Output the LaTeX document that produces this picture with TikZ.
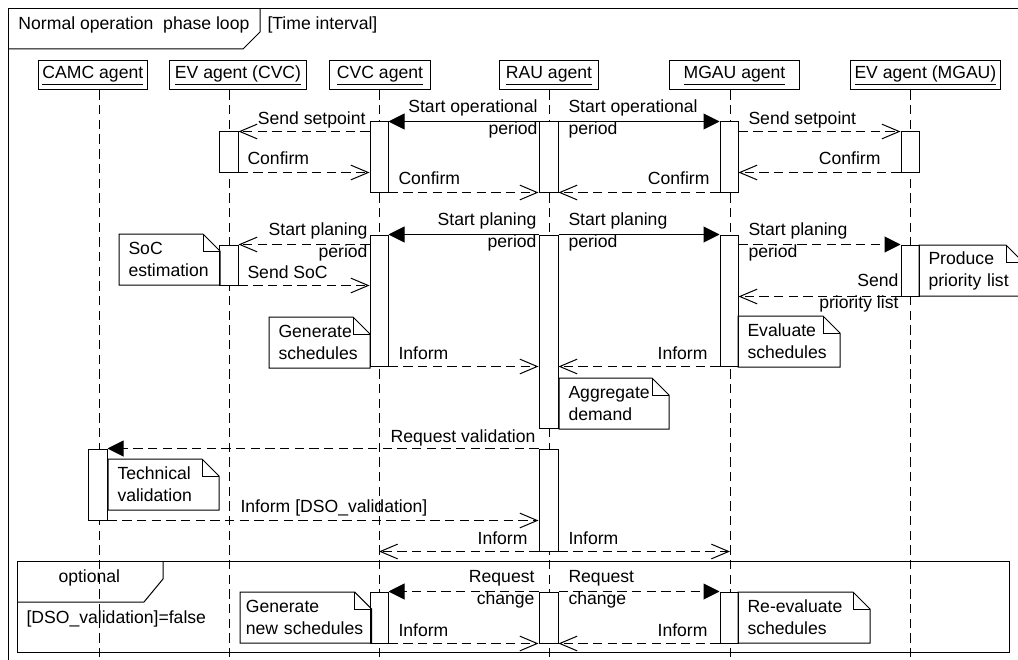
\documentclass[tikz,border=0pt]{standalone}
\usepackage{fontspec}
\setmainfont{Liberation Sans}
\usetikzlibrary{arrows.meta,fit,positioning}

% note with a folded corner, drawn round a named node
\newcommand{\foldnote}[1]{%
  \draw (#1.south west) -- (#1.north west) -- ([xshift=-12.75pt]#1.north east)
        -- ([yshift=-12.75pt]#1.north east) -- (#1.south east) -- cycle;
  \draw ([xshift=-12.75pt]#1.north east) |- ([yshift=-12.75pt]#1.north east);}

\begin{document}
\begin{tikzpicture}[x=0.75pt, y=-0.75pt, line width=0.75pt,
    font=\fontsize{13.2pt}{16.5pt}\selectfont]

    \tikzset{head/.style={draw, anchor=west, inner xsep=3pt, inner ysep=0pt, minimum height=21.75pt},
             life/.style={dash pattern=on 7pt off 4pt},
             act/.style={draw, fill=white, inner sep=0pt},
             note/.style={anchor=north west, align=left, inner xsep=6.75pt, inner ysep=0pt,
                          minimum height=37.5pt, text width=#1,
                          execute at begin node={\hyphenpenalty=10000}},
             call/.style={-{Triangle[length=12pt,width=12pt]}},
             calldash/.style={dash pattern=on 7pt off 4pt, -{Triangle[length=12pt,width=12pt]}},
             reply/.style={dash pattern=on 7pt off 4pt, -{Straight Barb[length=13pt,width=11pt]}},
             lblR/.style={anchor=east, align=right, inner sep=0pt},
             lblL/.style={anchor=west, align=left, inner sep=0pt},
             oneR/.style={anchor=base east, inner sep=0pt},
             oneL/.style={anchor=base west, inner sep=0pt}}

    \useasboundingbox (0,0) rectangle (1018,660);
    \clip (0,0) rectangle (1018,660);

    % frames
    \draw (8,9) rectangle (1030,670);
    \draw (8,49) -- (243,49) -- (260,32) -- (260,9);
    \node[oneL] (loopname) at (18,30) {Normal operation\ \ phase loop};
    \node[oneL] (loopguard) at (267,30) {[Time interval]};

    \draw (17,561) rectangle (1009,652);
    \draw (17,602) -- (144,602) -- (163,579) -- (163,561);
    \node[oneL] (optname) at (58,582) {optional};
    \node[oneL] (optguard) at (26,623) {[DSO\_validation]=false};

    % lifelines
    \node[head, minimum width=81pt] (camc) at (38,75.5) {\underline{CAMC agent}};
    \node[head, minimum width=102.75pt] (evc) at (169,75.5) {\underline{EV agent (CVC)}};
    \node[head, minimum width=75.75pt] (cvc) at (329,75.5) {\underline{CVC agent}};
    \node[head, minimum width=74.25pt] (rau) at (499,75.5) {\underline{RAU agent}};
    \node[head, minimum width=97.5pt] (mgau) at (669,75.5) {\underline{MGAU agent}};
    \node[head, minimum width=111.75pt] (evm) at (850,75.5) {\underline{EV agent (MGAU)}};

    \foreach \n/\x in {camc/99, evc/229, cvc/379, rau/549, mgau/730, evm/910} {
        \coordinate (\n-end) at (\x,660);
        \draw[life] (\n.south -| \n-end) -- (\n-end);
    }

    % activations
    \node[act, fit={(370,122) (388,192)}] (cvc1) {};
    \node[act, fit={(370,235) (388,366)}] (cvc2) {};
    \node[act, fit={(370,592) (388,643)}] (cvc3) {};
    \node[act, fit={(219,132) (238,172)}] (evc1) {};
    \node[act, fit={(219,245) (238,285)}] (evc2) {};
    \node[act, fit={(539,122) (558,192)}] (rau1) {};
    \node[act, fit={(539,235) (558,428)}] (rau2) {};
    \node[act, fit={(539,449) (558,551)}] (rau3) {};
    \node[act, fit={(539,592) (558,643)}] (rau4) {};
    \node[act, fit={(720,122) (738,192)}] (mg1) {};
    \node[act, fit={(720,235) (738,366)}] (mg2) {};
    \node[act, fit={(720,592) (738,643)}] (mg3) {};
    \node[act, fit={(901,132) (919,172)}] (evm1) {};
    \node[act, fit={(901,245) (919,296)}] (evm2) {};
    \node[act, fit={(88,449) (107,520)}] (camc1) {};

    % operational period
    \draw[call] (rau1.north west) -- (cvc1.north east);
    \draw[call] (rau1.north east) -- (mg1.north west);
    \draw[reply] (cvc1.west |- evc1.north) -- (evc1.north east);
    \draw[reply] (evc1.south east) -- (cvc1.west |- evc1.south);
    \draw[reply] (cvc1.south east) -- (rau1.south west);
    \draw[reply] (mg1.south west) -- (rau1.south east);
    \draw[reply] (mg1.east |- evm1.north) -- (evm1.north west);
    \draw[reply] (evm1.south west) -- (mg1.east |- evm1.south);

    \node[lblR] (opl) at (538,119) {Start operational\\period};
    \node[lblL] (opr) at (568,119) {Start operational\\period};
    \node[oneR] (setc) at (366,125) {Send setpoint};
    \node[oneL] (confc) at (247,165) {Confirm};
    \node[oneL] (confcr) at (398,185) {Confirm};
    \node[oneR] (confmr) at (710,185) {Confirm};
    \node[oneL] (setm) at (748,125) {Send setpoint};
    \node[oneR] (confm) at (881,165) {Confirm};

    % planning period
    \draw[call] (rau2.north west) -- (cvc2.north east);
    \draw[call] (rau2.north east) -- (mg2.north west);
    \draw[reply] (cvc2.west |- evc2.north) -- (evc2.north east);
    \draw[reply] (evc2.south east) -- (cvc2.west |- evc2.south);
    \draw[calldash] (mg2.east |- evm2.north) -- (evm2.north west);
    \draw[reply] (evm2.south west) -- (mg2.east |- evm2.south);
    \draw[reply] (cvc2.south east) -- (rau2.west |- cvc2.south);
    \draw[reply] (mg2.south west) -- (rau2.east |- mg2.south);

    \node[lblR] (planl) at (537,232) {Start planing\\period};
    \node[lblL] (planr) at (568,232) {Start planing\\period};
    \node[lblR] (planc) at (368,242) {Start planing\\period};
    \node[lblL] (planm) at (748,242) {Start planing\\period};
    \node[oneL] (soc) at (247,278) {Send SoC};
    \node[lblR] (prio) at (899,293) {Send\\priority list};
    \node[oneL] (infc) at (398,359) {Inform};
    \node[oneR] (infm) at (708,359) {Inform};

    % validation
    \draw[calldash] (rau3.north west) -- (camc1.north east);
    \draw[reply] (camc1.south east) -- (rau3.west |- camc1.south);
    \draw[reply] (rau3.south west) -- (rau3.south west -| cvc-end);
    \draw[reply] (rau3.south east) -- (rau3.south east -| mgau-end);

    \node[oneR] (reqval) at (536,442) {Request validation};
    \node[oneL] (infdso) at (240,512) {Inform [DSO\_validation]};
    \node[oneR] (infrl) at (528,544) {Inform};
    \node[oneL] (infrr) at (568,544) {Inform};

    % optional change
    \draw[calldash] (rau4.north west) -- (cvc3.north east);
    \draw[calldash] (rau4.north east) -- (mg3.north west);
    \draw[reply] (cvc3.south east) -- (rau4.south west);
    \draw[reply] (mg3.south west) -- (rau4.south east);

    \node[lblR] (reql) at (535,589) {Request\\change};
    \node[lblL] (reqr) at (568,589) {Request\\change};
    \node[oneL] (infc3) at (398,636) {Inform};
    \node[oneR] (infm3) at (708,636) {Inform};

    % notes
    \node[note=61.5pt] (socnote) at (119,234) {SoC\\estimation};
    \node[note=61.5pt] (gennote) at (269,317) {Generate\\schedules};
    \node[note=62.25pt] (evalnote) at (738,316) {Evaluate\\schedules};
    \node[note=68.25pt] (aggnote) at (559,378) {Aggregate\\demand};
    \node[note=63.75pt] (prodnote) at (919,245) {Produce\\priority list};
    \node[note=69pt] (technote) at (108,459) {Technical\\validation};
    \node[note=90pt, inner xsep=4pt] (gennewnote) at (240,592) {Generate\\new schedules};
    \node[note=84.75pt] (reevalnote) at (738,592) {Re-evaluate\\schedules};
    \foreach \m in {socnote, gennote, evalnote, aggnote, prodnote, technote, gennewnote, reevalnote} {
        \foldnote{\m}
    }

\end{tikzpicture}
\end{document}
